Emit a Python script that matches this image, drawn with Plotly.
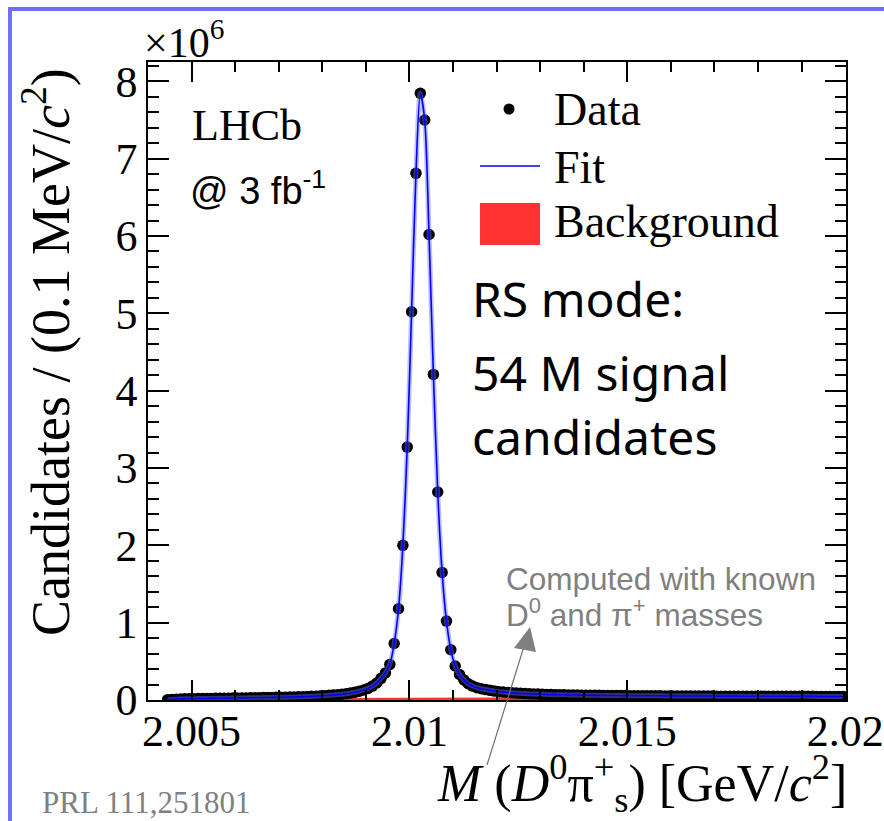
import plotly.graph_objects as go

# ---------------- data (values in units of 10^6 candidates) ----------------
bin_first_center = 2.00445   # GeV/c^2
bin_width = 0.0001           # 0.1 MeV/c^2
candidates = [
    0.004, 0.008, 0.011, 0.013, 0.015, 0.016, 0.017, 0.018, 0.019, 0.020,
    0.021, 0.022, 0.023, 0.023, 0.024, 0.025, 0.026, 0.027, 0.027, 0.028,
    0.029, 0.030, 0.031, 0.032, 0.033, 0.034, 0.035, 0.036, 0.038, 0.039,
    0.041, 0.043, 0.045, 0.047, 0.050, 0.053, 0.056, 0.060, 0.064, 0.069,
    0.075, 0.082, 0.091, 0.101, 0.114, 0.13, 0.15, 0.18, 0.22, 0.28,
    0.35, 0.46, 0.73, 1.18, 2.00, 3.27, 5.02, 6.81, 7.845, 7.50,
    6.02, 4.21, 2.69, 1.65, 1.02, 0.65, 0.44, 0.33, 0.26, 0.21,
    0.18, 0.16, 0.145, 0.135, 0.125, 0.115, 0.108, 0.102, 0.097, 0.093,
    0.089, 0.086, 0.083, 0.080, 0.078, 0.076, 0.074, 0.072, 0.070, 0.069,
    0.068, 0.067, 0.066, 0.065, 0.064, 0.063, 0.062, 0.061, 0.060, 0.060,
    0.059, 0.059, 0.058, 0.058, 0.057, 0.057, 0.056, 0.056, 0.055, 0.055,
    0.055, 0.054, 0.054, 0.054, 0.053, 0.053, 0.053, 0.053, 0.052, 0.052,
    0.052, 0.052, 0.051, 0.051, 0.051, 0.051, 0.050, 0.050, 0.050, 0.050,
    0.050, 0.049, 0.049, 0.049, 0.049, 0.049, 0.049, 0.048, 0.048, 0.048,
    0.048, 0.048, 0.048, 0.047, 0.047, 0.047, 0.047, 0.047, 0.047, 0.046,
    0.046, 0.046, 0.046, 0.046, 0.046, 0.046,
]
mass = [round(bin_first_center + bin_width * i, 5) for i in range(len(candidates))]

background_mass = [2.00441, 2.0045, 2.0050, 2.0060, 2.0080, 2.0100, 2.0120, 2.0150, 2.0200]
background = [0.0, 0.006, 0.014, 0.020, 0.026, 0.030, 0.033, 0.036, 0.040]

x_tick_vals = [2.005, 2.010, 2.015, 2.020]
x_tick_text = ["2.005", "2.01", "2.015", "2.02"]

# ---------------- layout helpers ----------------
W, H = 884, 821
L, R, T, B = 148, 38, 62, 121
PW, PH = W - L - R, H - T - B


def px(x):
    return (x - L) / PW


def py(y):
    return (H - B - y) / PH


SERIF = "Liberation Serif, Times New Roman, serif"
SANS = "Liberation Sans, Arial, sans-serif"

fig = go.Figure()

fig.add_trace(go.Scatter(
    x=background_mass, y=background, mode="lines", fill="tozeroy",
    line=dict(width=0, color="rgb(255,50,50)"), fillcolor="rgb(255,50,50)",
    showlegend=False, hoverinfo="skip"))

fig.add_trace(go.Scatter(
    x=mass, y=candidates, mode="markers",
    marker=dict(color="black", size=11.5, line=dict(width=0)),
    showlegend=False))

fig.add_trace(go.Scatter(
    x=mass, y=candidates, mode="lines", line_shape="spline",
    line=dict(color="rgba(110,110,255,0.45)", width=5, smoothing=0.8),
    showlegend=False, hoverinfo="skip"))

fig.add_trace(go.Scatter(
    x=mass, y=candidates, mode="lines", line_shape="spline",
    line=dict(color="rgb(0,0,255)", width=1.6, smoothing=0.8),
    showlegend=False))

axis_common = dict(
    showgrid=False, zeroline=False, showline=True, linecolor="black",
    linewidth=1.5, mirror="allticks", ticks="inside", tickcolor="black",
    tickwidth=1.5, tickfont=dict(family=SERIF, size=44, color="black"),
    automargin=False,
)

fig.update_xaxes(
    range=[2.004, 2.02002], tickmode="array", tickvals=x_tick_vals,
    ticktext=x_tick_text, ticklen=20, ticklabelstandoff=-9,
    minor=dict(ticks="inside", dtick=0.001, tick0=2.004, ticklen=10,
               tickwidth=1.5, tickcolor="black"),
    **axis_common)
fig.update_yaxes(
    range=[0, 8.25], tick0=0, dtick=1, ticklen=21,
    minor=dict(ticks="inside", dtick=0.2, tick0=0, ticklen=11,
               tickwidth=1.5, tickcolor="black"),
    **axis_common)

ann = []


def text(x, y, s, size, family=SERIF, color="black", xanchor="left",
         yanchor="middle", angle=0):
    ann.append(dict(x=px(x), y=py(y), xref="paper", yref="paper", text=s,
                    showarrow=False, xanchor=xanchor, yanchor=yanchor,
                    textangle=angle,
                    font=dict(family=family, size=size, color=color)))


text(142, 40, "×10<sup>6</sup>", 42)
text(190, 126, "LHCb", 44)
text(188, 188, "@ 3 fb<sup>-1</sup>", 38, family=SANS)
text(552, 109, "Data", 46)
text(552, 167, "Fit", 46)
text(552, 222, "Background", 46)
text(470, 298, "RS mode:", 48, family="Noto Sans")
text(470, 372, "54 M signal", 48, family="Noto Sans")
text(470, 436, "candidates", 48, family="Noto Sans")
text(504, 579, "Computed with known", 31.5, family=SANS, color="#808080")
text(504, 613, "D<sup>0</sup> and π<sup>+</sup> masses", 31.5, family=SANS,
     color="#808080")
text(40, 802, "PRL 111,251801", 31, color="#808080")
text(849, 783, "<i>M</i> (<i>D</i><sup>0</sup>π<sup>+</sup><sub>s</sub>) [GeV/<i>c</i><sup>2</sup>]",
     52, xanchor="right")
text(46, 352, "Candidates / (0.1 MeV/<i>c</i><sup>2</sup>)", 54,
     xanchor="center", angle=-90)

shapes = [
    # outer slide frame
    dict(type="rect", xref="paper", yref="paper", x0=px(10), x1=px(900),
         y0=py(840), y1=py(9), line=dict(color="rgb(110,110,255)", width=4),
         layer="below"),
    # legend symbols
    dict(type="circle", xref="paper", yref="paper", x0=px(503.5), x1=px(514.5),
         y0=py(114.5), y1=py(103.5), fillcolor="black", line=dict(width=0)),
    dict(type="line", xref="paper", yref="paper", x0=px(480), x1=px(540),
         y0=py(166), y1=py(166), line=dict(color="rgb(0,0,255)", width=1.6)),
    dict(type="rect", xref="paper", yref="paper", x0=px(480), x1=px(540),
         y0=py(245), y1=py(203), fillcolor="rgb(255,50,50)",
         line=dict(width=0)),
    # arrow
    dict(type="line", xref="paper", yref="paper", x0=px(487), x1=px(526),
         y0=py(765), y1=py(640), line=dict(color="#707070", width=1.2)),
    dict(type="path", xref="paper", yref="paper",
         path=f"M {px(530)} {py(627)} L {px(514)} {py(648)} L {px(536)} {py(652)} Z",
         fillcolor="#808080", line=dict(width=0)),
]

fig.update_layout(
    width=W, height=H, margin=dict(l=L, r=R, t=T, b=B),
    paper_bgcolor="white", plot_bgcolor="white",
    annotations=ann, shapes=shapes, showlegend=False,
)

fig.write_html("out.html")
